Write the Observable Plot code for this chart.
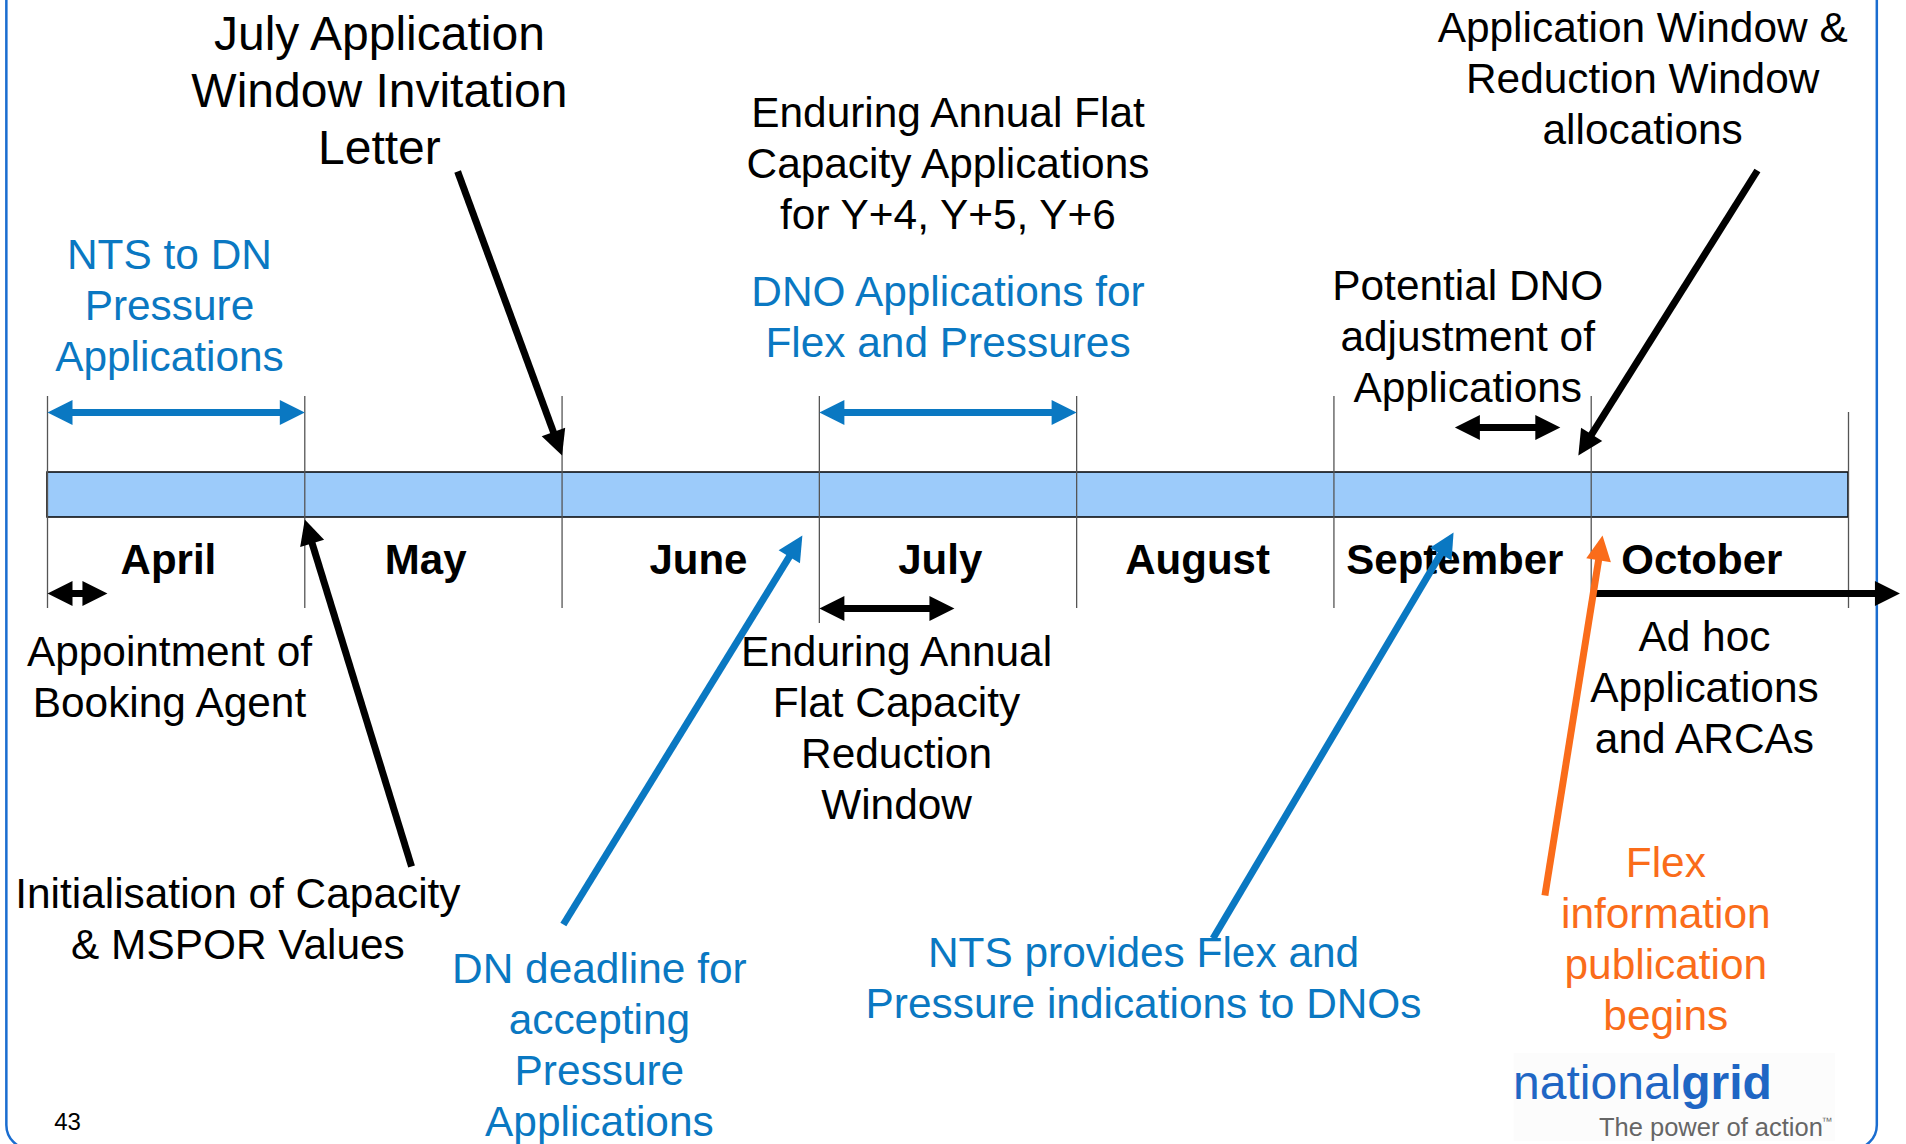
<!DOCTYPE html>
<html>
<head>
<meta charset="utf-8">
<script src="https://cdn.jsdelivr.net/npm/d3@7"></script>
<script src="https://cdn.jsdelivr.net/npm/@observablehq/plot@0.6"></script>
<style>
  html, body { margin: 0; padding: 0; background: #fff; }
  #chart svg { display: block; }
</style>
</head>
<body>
<div id="chart"></div>
<script>
// ---- Timeline categories (x unit = one month, 0 = start of April) ----
const months = ["April", "May", "June", "July", "August", "September", "October"];
const monthLabelX = [0.47, 1.47, 2.53, 3.47, 4.47, 5.47, 6.43];
const monthLabelY = 560;
const boundaries = [0, 1, 2, 3, 4, 5, 6, 7];
const boundaryTop = [396, 396, 396, 396, 396, 396, 396, 412];
const boundaryBottom = [608, 608, 608, 623, 608, 608, 608, 608];
const barSpan = [0, 7];
const barRows = [472, 517];

// ---- Annotations ----
const noteTexts = [
  "July Application\nWindow Invitation\nLetter",
  "NTS to DN\nPressure\nApplications",
  "Enduring Annual Flat\nCapacity Applications\nfor Y+4, Y+5, Y+6",
  "DNO Applications for\nFlex and Pressures",
  "Potential DNO\nadjustment of\nApplications",
  "Application Window &\nReduction Window\nallocations",
  "Appointment of\nBooking Agent",
  "Enduring Annual\nFlat Capacity\nReduction\nWindow",
  "Ad hoc\nApplications\nand ARCAs",
  "Initialisation of Capacity\n& MSPOR Values",
  "DN deadline for\naccepting\nPressure\nApplications",
  "NTS provides Flex and\nPressure indications to DNOs",
  "Flex\ninformation\npublication\nbegins"
];
const noteX = [1.29, 0.474, 3.50, 3.50, 5.52, 6.20, 0.474, 3.30, 6.44, 0.74, 2.145, 4.26, 6.29];
const noteY = [88, 303, 161, 315, 334, 76, 675, 726, 685, 917, 1043, 976, 937];
const noteKind = ["big", "blue", "black", "blue", "black", "black", "black", "black", "black", "black", "blue", "blue", "orange"];

// ---- Arrows: start (x1,y1) -> tip (x2,y2); kind "both" has heads at both ends ----
const arrowX1 = [0, 3, 0, 3, 5.47, 6.0, 1.594, 1.415, 2.005, 4.53, 5.82, 6.646];
const arrowY1 = [412, 412, 593, 608, 427, 593, 171, 866, 924, 938, 895, 170];
const arrowX2 = [1, 4, 0.233, 3.525, 5.88, 7.2, 2.0, 1.0, 2.934, 5.465, 6.044, 5.95];
const arrowY2 = [412, 412, 593, 608, 427, 593, 455, 519, 535, 532, 535, 455];
const arrowKind = ["both", "both", "both", "both", "both", "end", "end", "end", "end", "end", "end", "end"];
const arrowColorKey = ["blue", "blue", "black", "black", "black", "black", "black", "black", "blue", "blue", "orange", "black"];

// ---- Footer ----
const pageNumber = "43";
const logoWord1 = "national";
const logoWord2 = "grid";
const logoTagline = "The power of action";
const logoMark = "™";

// ---- Styling ----
const colors = {black: "#000000", big: "#000000", blue: "#0a78c2", orange: "#fa6c1a"};
const W = 1906, H = 1144, ML = 47, MR = 58;
const pxPerMonth = (W - ML - MR) / 7;

const notes = noteTexts.map((t, i) => ({text: t, x: noteX[i], y: noteY[i], kind: noteKind[i]}));
const monthData = months.map((m, i) => ({name: m, x: monthLabelX[i]}));
const ruleData = boundaries.map((b, i) => ({x: b, y1: boundaryTop[i], y2: boundaryBottom[i]}));
const arrows = arrowX1.map((x1, i) => ({
  x1, y1: arrowY1[i], x2: arrowX2[i], y2: arrowY2[i],
  kind: arrowKind[i], color: colors[arrowColorKey[i]]
}));
// arrow heads (tip positions and screen-space direction)
const heads = [];
for (const a of arrows) {
  const dx = (a.x2 - a.x1) * pxPerMonth, dy = a.y2 - a.y1;
  heads.push({x: a.x2, y: a.y2, rotate: Math.atan2(dx, -dy) * 180 / Math.PI, color: a.color});
  if (a.kind === "both") heads.push({x: a.x1, y: a.y1, rotate: Math.atan2(-dx, dy) * 180 / Math.PI, color: a.color});
}

const font = "Liberation Sans, Arial, Helvetica, sans-serif";
const textOpts = (kind) => ({
  x: "x", y: "y", text: "text",
  fill: colors[kind], fontSize: kind === "big" ? 48 : 42.4,
  lineHeight: kind === "big" ? 1.19 : 1.205,
  textAnchor: "middle", lineAnchor: "middle"
});

const plot = Plot.plot({
  width: W, height: H,
  marginLeft: ML, marginRight: MR, marginTop: 0, marginBottom: 0,
  style: {fontFamily: font, background: "#fff", overflow: "visible"},
  x: {domain: [0, 7], axis: null},
  y: {domain: [0, H], range: [0, H], axis: null},
  marks: [
    // slide border
    Plot.rect([{x1: -0.158, x2: 7.112, y1: -40, y2: 1149}], {
      x1: "x1", x2: "x2", y1: "y1", y2: "y2",
      fill: "none", stroke: "#1a6dd0", strokeWidth: 2.5, rx: 24
    }),
    // logo background (very faint)
    Plot.rect([{x1: 5.70, x2: 6.95, y1: 1053, y2: 1141}], {
      x1: "x1", x2: "x2", y1: "y1", y2: "y2", fill: "#fcfcfc"
    }),
    // timeline bar
    Plot.rect([{x1: barSpan[0], x2: barSpan[1], y1: barRows[0], y2: barRows[1]}], {
      x1: "x1", x2: "x2", y1: "y1", y2: "y2",
      fill: "#9ccbfa", stroke: "#000", strokeWidth: 1.5
    }),
    // month boundaries
    Plot.ruleX(ruleData, {x: "x", y1: "y1", y2: "y2", stroke: "#555", strokeWidth: 1.3}),
    // month labels
    Plot.text(monthData, {
      x: "x", y: () => monthLabelY, text: "name",
      fontSize: 42, fontWeight: "bold", fill: "#000", textAnchor: "middle", lineAnchor: "middle"
    }),
    // annotations
    ...["big", "blue", "black", "orange"].map(kind =>
      Plot.text(notes.filter(n => n.kind === kind), textOpts(kind))
    ),
    // arrow shafts
    Plot.arrow(arrows.filter(a => a.kind === "end"), {
      x1: "x1", y1: "y1", x2: "x2", y2: "y2", stroke: "color",
      strokeWidth: 7, headLength: 0, insetEnd: 14, strokeLinecap: "butt"
    }),
    Plot.arrow(arrows.filter(a => a.kind === "both"), {
      x1: "x1", y1: "y1", x2: "x2", y2: "y2", stroke: "color",
      strokeWidth: 7, headLength: 0, insetEnd: 14, insetStart: 14, strokeLinecap: "butt"
    }),
    // arrow heads
    Plot.vector(heads, {
      x: "x", y: "y", rotate: "rotate", fill: "color", stroke: "none",
      shape: "spike", anchor: "end", length: 25, r: 12.5
    }),
    // page number
    Plot.text([pageNumber], {x: () => 0.078, y: () => 1122, text: d => d, fontSize: 24, fill: "#000", textAnchor: "middle", lineAnchor: "middle"}),
    // logo
    Plot.text([logoWord1], {x: () => 6.35, y: () => 1083, text: d => d, fontSize: 48, fill: "#1f66c4", textAnchor: "end", lineAnchor: "middle"}),
    Plot.text([logoWord2], {x: () => 6.35, y: () => 1083, text: d => d, fontSize: 48, fontWeight: "bold", fill: "#1f66c4", textAnchor: "start", lineAnchor: "middle"}),
    Plot.text([logoTagline], {x: () => 6.03, y: () => 1127, text: d => d, fontSize: 25.5, fill: "#666", textAnchor: "start", lineAnchor: "middle"}),
    Plot.text([logoMark], {x: () => 6.895, y: () => 1121, text: d => d, fontSize: 11, fill: "#666", textAnchor: "start", lineAnchor: "middle"})
  ]
});
document.getElementById("chart").appendChild(plot);
</script>
</body>
</html>
